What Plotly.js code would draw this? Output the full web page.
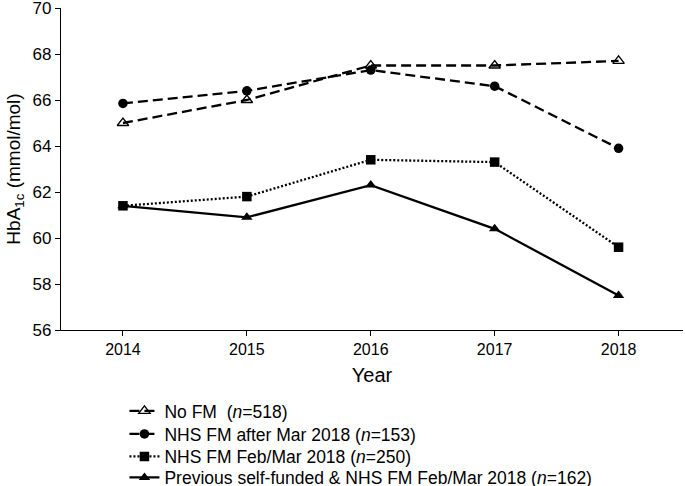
<!DOCTYPE html>
<html><head><meta charset="utf-8">
<script src="https://cdn.plot.ly/plotly-3.0.1.min.js"></script>
<style>html,body{margin:0;padding:0;background:#fff}</style>
</head><body><div id="chart" style="width:685px;height:486px"></div>
<script>
const years = [2014, 2015, 2016, 2017, 2018];
const noFM = [65.0, 66.0, 67.5, 67.5, 67.7];
const nhsAfter = [65.85, 66.4, 67.3, 66.6, 63.9];
const nhsFebMar = [61.4, 61.8, 63.4, 63.3, 59.6];
const prevSelf = [61.4, 60.9, 62.3, 60.4, 57.5];
const names = [
  'No FM  (<i>n</i>=518)',
  'NHS FM after Mar 2018 (<i>n</i>=153)',
  'NHS FM Feb/Mar 2018 (<i>n</i>=250)',
  'Previous self-funded &amp; NHS FM Feb/Mar 2018 (<i>n</i>=162)'
];
const yTicks = [56, 58, 60, 62, 64, 66, 68, 70];

const traces = [
  {x: years, y: noFM, name: names[0], mode: 'lines+markers', legend: 'legend',
   line: {color: '#000', width: 2.3, dash: '10px,5px'},
   marker: {symbol: 'triangle-up-open', size: 10, color: '#000', line: {width: 1.3, color: '#000'}}},
  {x: years, y: nhsAfter, name: names[1], mode: 'lines+markers', legend: 'legend2',
   line: {color: '#000', width: 2.3, dash: '10px,5px'},
   marker: {symbol: 'circle', size: 9.5, color: '#000'}},
  {x: years, y: nhsFebMar, name: names[2], mode: 'lines+markers', legend: 'legend3',
   line: {color: '#000', width: 2.3, dash: '2px,2px'},
   marker: {symbol: 'square', size: 9.5, color: '#000'}},
  {x: years, y: prevSelf, name: names[3], mode: 'lines+markers', legend: 'legend4',
   line: {color: '#000', width: 2.3},
   marker: {symbol: 'triangle-up', size: 10, color: '#000'}}
];

function leg(yPx) {
  return {x: 0.102, xref: 'paper', y: 1 - yPx / 486, yref: 'container',
          xanchor: 'left', yanchor: 'middle', font: {size: 17.5},
          itemwidth: 30, bgcolor: 'rgba(0,0,0,0)', borderwidth: 0};
}

const layout = {
  width: 685, height: 486,
  margin: {l: 61, r: 2, t: 8, b: 156},
  paper_bgcolor: '#fff', plot_bgcolor: '#fff',
  font: {family: 'Liberation Sans, Arial, sans-serif', color: '#000', size: 16},
  showlegend: true,
  legend: leg(411), legend2: leg(434), legend3: leg(456.5), legend4: leg(477.5),
  xaxis: {range: [2013.5, 2018.52], tickvals: years, ticktext: years.map(String),
          showgrid: false, zeroline: false, showline: true, linecolor: '#000', linewidth: 1.2,
          ticks: 'outside', ticklen: 5, tickcolor: '#000', tickfont: {size: 16},
          ticklabeloverflow: 'allow', automargin: false,
          title: {text: 'Year', font: {size: 20}, standoff: 10}},
  yaxis: {range: [56, 70], tickvals: yTicks, ticktext: yTicks.map(String),
          showgrid: false, zeroline: false, showline: true, linecolor: '#000', linewidth: 1.2,
          ticks: 'outside', ticklen: 5, tickcolor: '#000', tickfont: {size: 17},
          ticklabeloverflow: 'allow', automargin: false,
          title: {text: 'HbA<sub>1c</sub> (mmol/mol)', font: {size: 19}, standoff: 6}}
};
Plotly.newPlot('chart', traces, layout, {displayModeBar: false, staticPlot: true});
</script></body></html>
